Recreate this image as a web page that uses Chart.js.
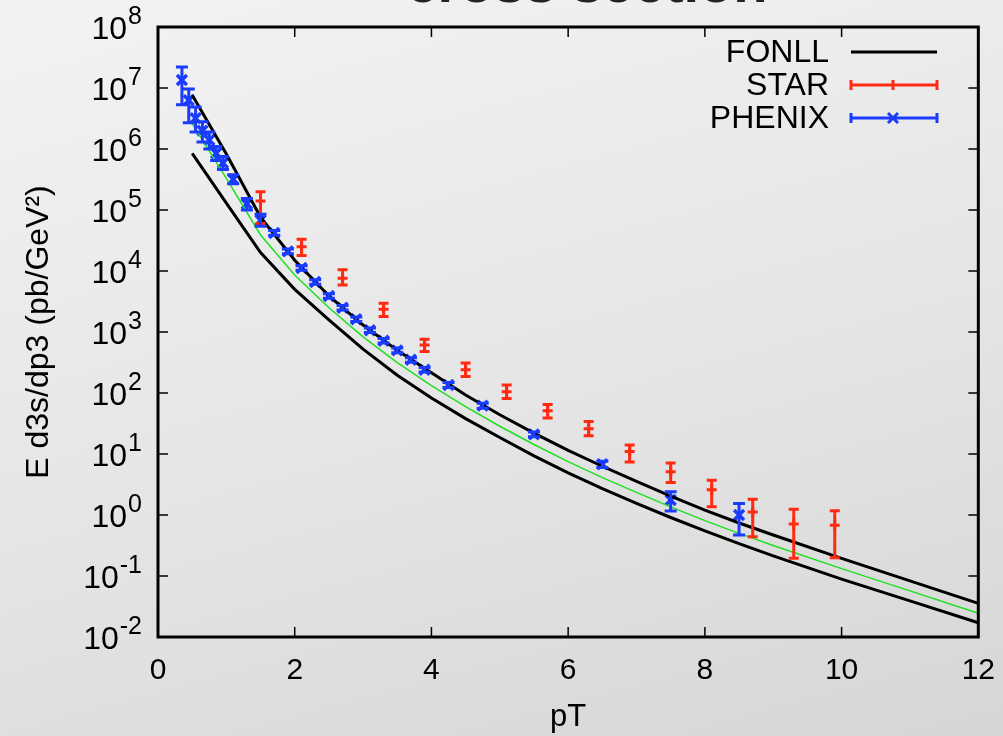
<!DOCTYPE html>
<html>
<head>
<meta charset="utf-8">
<script src="https://cdn.jsdelivr.net/npm/chart.js@4.4.0/dist/chart.umd.min.js"></script>
<style>
  html, body { margin: 0; padding: 0; }
  body {
    width: 1003px; height: 736px; overflow: hidden;
    background: linear-gradient(165deg, #f3f3f3 0%, #e5e5e5 55%, #d6d6d6 100%);
  }
  #wrap { position: relative; width: 1003px; height: 736px; }
</style>
</head>
<body>
<div id="wrap"><canvas id="xsecChart"></canvas></div>
<script>
// FONLL band (upper / lower edge) and central curve
const fonllPt = [0.5, 1, 1.5, 2, 2.5, 3, 3.5, 4, 4.5, 5, 5.5, 6, 6.5, 7, 7.5, 8, 8.5, 9, 10, 11, 12];
const fonllHi = [7.7e6, 8.3e5, 7.6e4, 1.5e4, 3.9e3, 1.3e3, 500, 214, 93, 44, 22, 11.5, 6.3, 3.55, 2.04, 1.2, 0.74, 0.47, 0.195, 0.083, 0.0355];
const fonllLo = [8.5e5, 1.3e5, 2.0e4, 5.0e3, 1.58e3, 525, 195, 83, 38, 18.6, 9.3, 4.9, 2.7, 1.55, 0.91, 0.55, 0.34, 0.214, 0.089, 0.039, 0.0171];
const fonllMid = [2.6e6, 3.3e5, 3.9e4, 8.6e3, 2.5e3, 830, 316, 132, 60, 28.5, 14.3, 7.5, 4.1, 2.35, 1.36, 0.81, 0.50, 0.316, 0.132, 0.057, 0.0245];

// STAR
const starPt = [1.5, 2.1, 2.7, 3.3, 3.9, 4.5, 5.1, 5.7, 6.3, 6.9, 7.5, 8.1, 8.7, 9.3, 9.9];
const starVal = [1.4e5, 2.5e4, 7.6e3, 2.35e3, 610, 240, 105, 51, 26, 11, 5.1, 2.6, 1.12, 0.71, 0.68];
const starHi = [2.0e5, 3.3e4, 1.05e4, 2.95e3, 760, 310, 135, 65, 34, 14, 7.1, 3.7, 1.82, 1.24, 1.17];
const starLo = [6.0e4, 1.8e4, 5.9e3, 1.8e3, 480, 187, 81, 39, 20, 7.4, 3.4, 1.37, 0.44, 0.195, 0.2];

// PHENIX
const phenixPt = [0.35, 0.45, 0.55, 0.65, 0.75, 0.85, 0.95, 1.1, 1.3, 1.5, 1.7, 1.9, 2.1, 2.3, 2.5, 2.7, 2.9, 3.1, 3.3, 3.5, 3.7, 3.9, 4.25, 4.75, 5.5, 6.5, 7.5, 8.5];
const phenixVal = [1.35e7, 6.3e6, 3.2e6, 2.0e6, 1.4e6, 8.5e5, 5.9e5, 3.2e5, 1.26e5, 6.8e4, 4.2e4, 2.1e4, 1.12e4, 6.6e3, 3.9e3, 2.5e3, 1.62e3, 1.07e3, 720, 500, 350, 240, 135, 62, 21, 6.8, 1.76, 1.0];
const phenixHi = [2.2e7, 9.6e6, 4.9e6, 2.8e6, 1.9e6, 1.1e6, 7.5e5, 3.8e5, 1.55e5, 8.5e4, 4.6e4, 2.3e4, 1.22e4, 7.2e3, 4.25e3, 2.72e3, 1.76e3, 1.16e3, 780, 545, 380, 262, 148, 68, 23, 7.6, 2.4, 1.55];
const phenixLo = [5.3e6, 2.7e6, 1.9e6, 1.3e6, 1.0e6, 6.5e5, 4.6e5, 2.7e5, 1.0e5, 5.4e4, 3.85e4, 1.92e4, 1.03e4, 6.05e3, 3.58e3, 2.3e3, 1.48e3, 980, 660, 458, 320, 220, 123, 56, 19.2, 6.0, 1.16, 0.47];

const xTicks = [0, 2, 4, 6, 8, 10, 12];
const yTicks = [1e-2, 1e-1, 1, 1e1, 1e2, 1e3, 1e4, 1e5, 1e6, 1e7, 1e8];

const FONT = "'Liberation Sans', Arial, Helvetica, sans-serif";
const RED = '#ff2a12';
const BLUE = '#1a3cff';
const GREEN = '#1fe01f';

const pts = (xs, ys) => xs.map((x, i) => ({ x: x, y: ys[i] }));

// vertical error bars with caps, for datasets carrying errLo / errHi
const errorBars = {
  id: 'errorBars',
  afterDatasetsDraw(chart) {
    const { ctx, scales: { x, y } } = chart;
    chart.data.datasets.forEach(ds => {
      if (!ds.errLo) return;
      ctx.save();
      ctx.strokeStyle = ds.borderColor;
      ctx.lineWidth = 3;
      ds.data.forEach((p, j) => {
        const px = x.getPixelForValue(p.x);
        const yh = y.getPixelForValue(ds.errHi[j]);
        const yl = y.getPixelForValue(ds.errLo[j]);
        const c = ds.capHalf;
        ctx.beginPath();
        ctx.moveTo(px, yh); ctx.lineTo(px, yl);
        ctx.moveTo(px - c, yh); ctx.lineTo(px + c, yh);
        ctx.moveTo(px - c, yl); ctx.lineTo(px + c, yl);
        ctx.stroke();
      });
      ctx.restore();
    });
  }
};

// border box, inward mirrored ticks, 10^n labels, legend and title
const frame = {
  id: 'frame',
  afterDraw(chart) {
    const { ctx, chartArea: a, scales: { x, y } } = chart;
    ctx.save();
    ctx.strokeStyle = '#000';
    ctx.lineWidth = 3;
    ctx.strokeRect(a.left, a.top, a.right - a.left, a.bottom - a.top);

    ctx.lineWidth = 1.5;
    ctx.beginPath();
    xTicks.forEach(v => {
      const px = x.getPixelForValue(v);
      ctx.moveTo(px, a.bottom); ctx.lineTo(px, a.bottom - 10);
      ctx.moveTo(px, a.top); ctx.lineTo(px, a.top + 10);
    });
    yTicks.forEach(v => {
      const py = y.getPixelForValue(v);
      ctx.moveTo(a.left, py); ctx.lineTo(a.left + 10, py);
      ctx.moveTo(a.right, py); ctx.lineTo(a.right - 10, py);
    });
    ctx.stroke();

    // y tick labels as 10 with a raised exponent
    ctx.fillStyle = '#000';
    ctx.textAlign = 'right';
    ctx.textBaseline = 'alphabetic';
    yTicks.forEach(v => {
      const py = y.getPixelForValue(v);
      const e = String(Math.round(Math.log10(v)));
      ctx.font = '25px ' + FONT;
      const ew = ctx.measureText(e).width;
      const right = a.left - 16;
      ctx.fillText(e, right, py - 3);
      ctx.font = '32px ' + FONT;
      ctx.fillText('10', right - ew - 1, py + 12);
    });

    // legend, top right inside the plot
    const rows = [
      { label: 'FONLL', color: '#000', kind: 'line' },
      { label: 'STAR', color: RED, kind: 'cross' },
      { label: 'PHENIX', color: BLUE, kind: 'crossRot' }
    ];
    const tx = 829, sx0 = 851, sx1 = 937, sxm = 893;
    rows.forEach((r, i) => {
      const ly = 52 + i * 33;
      ctx.font = '32px ' + FONT;
      ctx.textAlign = 'right';
      ctx.textBaseline = 'middle';
      ctx.fillStyle = '#000';
      ctx.fillText(r.label, tx, ly + 1);
      ctx.strokeStyle = r.color;
      ctx.lineWidth = 3;
      ctx.beginPath();
      ctx.moveTo(sx0, ly); ctx.lineTo(sx1, ly);
      if (r.kind !== 'line') {
        ctx.moveTo(sx0, ly - 5); ctx.lineTo(sx0, ly + 5);
        ctx.moveTo(sx1, ly - 5); ctx.lineTo(sx1, ly + 5);
      }
      if (r.kind === 'cross') {
        ctx.moveTo(sxm, ly - 5); ctx.lineTo(sxm, ly + 5);
      }
      if (r.kind === 'crossRot') {
        ctx.moveTo(sxm - 5, ly - 5); ctx.lineTo(sxm + 5, ly + 5);
        ctx.moveTo(sxm - 5, ly + 5); ctx.lineTo(sxm + 5, ly - 5);
      }
      ctx.stroke();
    });

    // title, mostly above the top edge of the canvas
    ctx.font = 'bold 56px ' + FONT;
    ctx.textAlign = 'center';
    ctx.textBaseline = 'alphabetic';
    ctx.fillStyle = '#222';
    ctx.fillText('cross section', 587, 2);
    ctx.restore();
  }
};

const ctx = document.getElementById('xsecChart').getContext('2d');
const xsecChart = new Chart(ctx, {
  type: 'line',
  data: {
    datasets: [
      {
        label: 'FONLL',
        data: pts(fonllPt, fonllHi),
        borderColor: '#000',
        borderWidth: 3,
        pointRadius: 0,
        tension: 0
      },
      {
        label: 'FONLL low',
        data: pts(fonllPt, fonllLo),
        borderColor: '#000',
        borderWidth: 3,
        pointRadius: 0,
        tension: 0
      },
      {
        label: 'FONLL central',
        data: pts(fonllPt, fonllMid),
        borderColor: GREEN,
        borderWidth: 1.5,
        pointRadius: 0,
        tension: 0
      },
      {
        label: 'STAR',
        data: pts(starPt, starVal),
        showLine: false,
        borderColor: RED,
        backgroundColor: RED,
        pointStyle: 'cross',
        pointRadius: 5,
        pointBorderWidth: 3,
        errLo: starLo,
        errHi: starHi,
        capHalf: 5
      },
      {
        label: 'PHENIX',
        data: pts(phenixPt, phenixVal),
        showLine: false,
        borderColor: BLUE,
        backgroundColor: BLUE,
        pointStyle: 'crossRot',
        pointRadius: 7,
        pointBorderWidth: 3.5,
        errLo: phenixLo,
        errHi: phenixHi,
        capHalf: 6
      }
    ]
  },
  options: {
    responsive: true,
    maintainAspectRatio: false,
    animation: false,
    devicePixelRatio: 1,
    layout: {
      padding: { top: 27, right: 19, bottom: 0, left: 0 }
    },
    scales: {
      x: {
        type: 'linear',
        min: 0,
        max: 12,
        afterBuildTicks: s => { s.ticks = xTicks.map(v => ({ value: v })); },
        afterFit: s => { s.height = 99; },
        grid: { display: false },
        border: { display: false },
        ticks: {
          color: '#000',
          padding: 8,
          maxRotation: 0,
          font: { family: FONT, size: 30 }
        },
        title: {
          display: true,
          text: 'pT',
          color: '#000',
          padding: { top: 0, bottom: 0 },
          font: { family: FONT, size: 31 }
        }
      },
      y: {
        type: 'logarithmic',
        min: 1e-2,
        max: 1e8,
        afterBuildTicks: s => { s.ticks = yTicks.map(v => ({ value: v })); },
        afterFit: s => { s.width = 158; },
        grid: { display: false },
        border: { display: false },
        ticks: { display: false },
        title: {
          display: true,
          text: 'E d3s/dp3 (pb/GeV²)',
          color: '#000',
          padding: { top: 20, bottom: 0 },
          font: { family: FONT, size: 32 }
        }
      }
    },
    plugins: {
      legend: { display: false },
      tooltip: { enabled: false }
    }
  },
  plugins: [errorBars, frame]
});
</script>
</body>
</html>
